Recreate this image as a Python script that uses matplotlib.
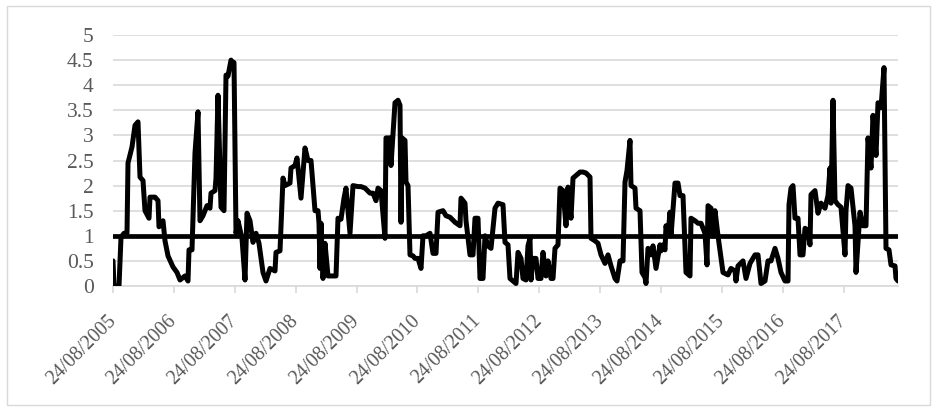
import datetime as dt
import matplotlib
matplotlib.use("Agg")
import matplotlib.pyplot as plt
import matplotlib.dates as mdates
from matplotlib.patches import Rectangle

# days after 24/08/2005 and the value
start = dt.datetime(2005, 8, 24)
day = [0, 6, 36, 48, 66, 84, 90, 114, 132, 150, 162, 180, 192, 216, 222, 252, 270, 276, 300, 312,
       330, 360, 384, 402, 432, 450, 456, 474, 492, 510, 522, 540, 564, 582, 588, 612, 618, 630, 648, 666,
       678, 690, 708, 720, 726, 738, 750, 774, 792, 804, 822, 840, 858, 876, 900, 918, 942, 972, 978, 1002,
       1020, 1032, 1062, 1068, 1092, 1104, 1128, 1152, 1170, 1188, 1212, 1230, 1236, 1242, 1248, 1260, 1272, 1290, 1338, 1350,
       1368, 1386, 1398, 1422, 1440, 1470, 1488, 1512, 1542, 1560, 1578, 1590, 1608, 1632, 1638, 1662, 1668, 1692, 1710, 1722,
       1728, 1734, 1752, 1758, 1770, 1782, 1800, 1812, 1830, 1848, 1860, 1878, 1902, 1920, 1938, 1950, 1980, 1998, 2022, 2052,
       2082, 2088, 2112, 2118, 2142, 2160, 2172, 2190, 2202, 2220, 2232, 2250, 2268, 2292, 2310, 2340, 2352, 2370, 2382, 2400,
       2418, 2430, 2448, 2460, 2478, 2490, 2502, 2508, 2520, 2538, 2550, 2568, 2580, 2598, 2610, 2628, 2640, 2652, 2670, 2682,
       2700, 2718, 2730, 2748, 2760, 2778, 2802, 2820, 2838, 2862, 2868, 2892, 2910, 2928, 2952, 2970, 2988, 3012, 3024, 3042,
       3060, 3072, 3084, 3102, 3108, 3132, 3138, 3162, 3168, 3174, 3192, 3198, 3210, 3228, 3240, 3258, 3282, 3288, 3300, 3312,
       3318, 3330, 3342, 3348, 3372, 3390, 3402, 3420, 3438, 3462, 3468, 3492, 3510, 3528, 3552, 3564, 3570, 3588, 3600, 3612,
       3630, 3660, 3690, 3708, 3732, 3738, 3750, 3780, 3798, 3822, 3852, 3870, 3888, 3912, 3930, 3948, 3972, 3990, 4008, 4032,
       4050, 4056, 4068, 4080, 4092, 4110, 4122, 4140, 4152, 4170, 4182, 4188, 4212, 4230, 4248, 4272, 4290, 4302, 4308, 4320,
       4332, 4350, 4368, 4392, 4398, 4410, 4428, 4452, 4458, 4482, 4500, 4518, 4530, 4548, 4560, 4578, 4590, 4608, 4626, 4638,
       4656, 4668, 4692, 4698, 4710]
value = [0.5, 0.0, 0.0, 0.97, 1.05, 1.05, 2.45, 2.77, 3.2, 3.27, 2.17, 2.1, 1.5, 1.35, 1.77, 1.77, 1.7, 1.18, 1.3, 0.9,
         0.6, 0.38, 0.27, 0.12, 0.2, 0.1, 0.72, 0.72, 2.65, 3.47, 1.3, 1.4, 1.6, 1.55, 1.85, 1.9, 2.15, 3.8, 1.57, 1.5,
         4.2, 4.18, 4.5, 4.45, 4.45, 1.05, 1.3, 0.95, 0.12, 1.45, 1.3, 0.87, 1.05, 0.85, 0.27, 0.1, 0.35, 0.3, 0.67, 0.7,
         2.15, 2.0, 2.05, 2.35, 2.4, 2.55, 1.75, 2.75, 2.5, 2.5, 1.5, 1.5, 1.25, 0.35, 1.25, 0.15, 0.85, 0.2, 0.2, 1.35,
         1.33, 1.75, 1.95, 1.05, 2.0, 1.98, 1.98, 1.95, 1.85, 1.85, 1.7, 1.95, 1.9, 0.95, 2.95, 2.95, 2.4, 3.65, 3.7, 3.6,
         1.27, 2.95, 2.9, 2.07, 2.0, 0.62, 0.6, 0.55, 0.55, 0.35, 1.0, 1.0, 1.05, 0.65, 0.65, 1.47, 1.5, 1.4, 1.37, 1.27,
         1.2, 1.75, 1.65, 1.3, 0.62, 0.62, 1.35, 1.35, 0.15, 0.15, 1.0, 0.8, 0.75, 1.55, 1.65, 1.62, 0.87, 0.82, 0.15, 0.1,
         0.05, 0.67, 0.55, 0.15, 0.12, 0.8, 0.95, 0.12, 0.55, 0.55, 0.15, 0.15, 0.67, 0.2, 0.5, 0.15, 0.15, 0.75, 0.82, 1.95,
         1.9, 1.2, 1.97, 1.35, 2.15, 2.2, 2.27, 2.27, 2.25, 2.17, 0.95, 0.9, 0.85, 0.62, 0.45, 0.62, 0.4, 0.15, 0.1, 0.5,
         0.5, 2.07, 2.3, 2.9, 2.0, 1.95, 1.55, 1.5, 0.88, 0.27, 0.17, 0.05, 0.75, 0.62, 0.8, 0.35, 0.82, 0.7, 0.82, 0.72,
         1.2, 1.0, 1.47, 1.0, 2.05, 2.05, 1.8, 1.8, 0.27, 0.2, 1.35, 1.3, 1.25, 1.25, 1.05, 0.42, 1.6, 1.55, 1.0, 1.5,
         1.0, 0.27, 0.22, 0.35, 0.3, 0.1, 0.4, 0.5, 0.15, 0.45, 0.62, 0.62, 0.05, 0.1, 0.5, 0.5, 0.75, 0.55, 0.27, 0.1,
         0.1, 1.62, 1.95, 2.0, 1.35, 1.35, 0.62, 0.62, 1.15, 1.1, 0.82, 1.82, 1.9, 1.45, 1.65, 1.55, 1.8, 2.35, 1.65, 3.7,
         1.7, 1.62, 1.57, 0.62, 1.5, 2.0, 1.95, 1.2, 0.27, 1.47, 1.2, 1.2, 2.95, 2.35, 3.4, 2.6, 3.65, 3.55, 4.35, 0.75,
         0.72, 0.42, 0.4, 0.15, 0.1]
ref_level = 1
yticks = [0, 0.5, 1, 1.5, 2, 2.5, 3, 3.5, 4, 4.5, 5]
tick_years = list(range(2005, 2018))

dates = [start + dt.timedelta(days=d) for d in day]

grey = "#d9d9d9"
txt = "#595959"
plt.rcParams["font.family"] = ["Liberation Serif", "DejaVu Serif"]

fig = plt.figure(figsize=(9.37, 4.12), dpi=100)
ax = fig.add_axes([113 / 937, 1 - 286 / 412, 785 / 937, 251 / 412])

ax.plot(dates, value, color="black", lw=3.6, solid_joinstyle="round", solid_capstyle="round", zorder=3)
ax.axhline(ref_level, color="black", lw=3.4, zorder=4)

ax.set_ylim(0, 5)
ax.set_xlim(dates[0], dates[-1])
ax.set_yticks(yticks)
ax.set_yticklabels([f"{t:g}" for t in yticks])
ax.yaxis.grid(True, color=grey, lw=1.2)
ax.set_axisbelow(True)

ax.set_xticks([dt.datetime(y, 8, 24) for y in tick_years])
ax.xaxis.set_major_formatter(mdates.DateFormatter("%d/%m/%Y"))
for s in ["top", "right", "left"]:
    ax.spines[s].set_visible(False)
ax.spines["bottom"].set_color(grey)
ax.spines["bottom"].set_linewidth(1.2)
ax.tick_params(axis="y", length=0, pad=14, labelsize=15.5, labelcolor=txt)
ax.tick_params(axis="x", length=5, color=grey, width=1.2, pad=18, labelsize=14.2, labelcolor=txt)
plt.setp(ax.get_xticklabels(), rotation=45, ha="right", va="center", rotation_mode="anchor")

fig.patches.append(Rectangle((7 / 937, 7 / 412), 923 / 937, 399 / 412, transform=fig.transFigure,
                             fill=False, edgecolor=grey, lw=1))

fig.savefig("out.png", dpi=100)
